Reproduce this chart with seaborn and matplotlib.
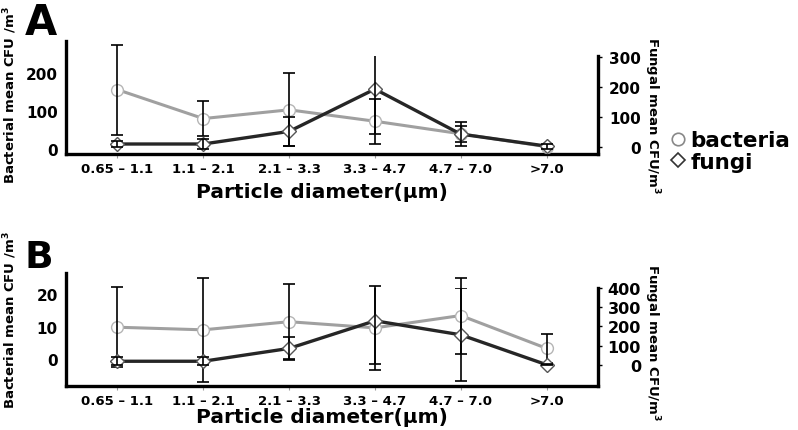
import numpy as np
import seaborn as sns
import matplotlib
matplotlib.use("Agg")
import matplotlib.pyplot as plt
from matplotlib.lines import Line2D

# size classes of the sampler stages
categories = ["0.65 – 1.1", "1.1 – 2.1", "2.1 – 3.3", "3.3 – 4.7", "4.7 – 7.0", ">7.0"]

# panel A
bact_a = [156, 80, 103, 73, 40, 6]
bact_a_err = [118, 46, 96, 59, 21, 4]
fungi_a = [10, 10, 52, 193, 43, 3]
fungi_a_err = [10, 17, 47, 150, 41, 8]

# panel B
bact_b = [9.8, 9.0, 11.5, 9.6, 13.4, 3.3]
bact_b_err = [12.4, 16.0, 11.5, 12.9, 11.7, 4.4]
fungi_b = [18, 18, 85, 229, 156, 0]
fungi_b_err = [20, 20, 60, 226, 242, 4]

sns.set_style("ticks")
plt.rcParams["font.family"] = ["DejaVu Sans"]
plt.rcParams["font.weight"] = "bold"
for key in ("text.color", "axes.labelcolor", "xtick.color", "ytick.color"):
    plt.rcParams[key] = "black"

BACT_LINE = "#a0a0a0"
BACT_EDGE = "#b5b5b5"
FUNGI_LINE = "#262626"
FUNGI_EDGE = "#555555"
W, H = 798, 431

fig = plt.figure(figsize=(W / 100, H / 100), dpi=100)


def px_axes(x0, x1, y_top, y_bot):
    return fig.add_axes([x0 / W, 1 - y_bot / H, (x1 - x0) / W, (y_bot - y_top) / H])


def draw_panel(y_top_l, y_top_r, y_bot, bact, bact_err, fungi, fungi_err,
               ylim_l, ylim_r, yticks_l, yticks_r, tick_fs_r, letter, letter_y, letter_fs,
               ylab_l_y, ylab_r_y, xlab_y):
    x = np.arange(len(categories))
    ax = px_axes(66, 598, y_top_l, y_bot)
    axr = px_axes(66, 598, y_top_r, y_bot)
    axr.patch.set_alpha(0)

    sns.lineplot(x=x, y=bact, ax=ax, color=BACT_LINE, lw=2.2, marker="o", ms=8.5,
                 mfc="white", mec=BACT_EDGE, mew=1.0, zorder=3)
    ax.errorbar(x, bact, yerr=bact_err, fmt="none", ecolor="black", elinewidth=1.2,
                capsize=4.5, capthick=1.2, zorder=4)
    sns.lineplot(x=x, y=fungi, ax=axr, color=FUNGI_LINE, lw=2.4, marker="D", ms=7.5,
                 mfc="white", mec=FUNGI_EDGE, mew=1.0, zorder=3)
    axr.errorbar(x, fungi, yerr=fungi_err, fmt="none", ecolor="black", elinewidth=1.2,
                 capsize=4.5, capthick=1.2, zorder=4)

    for a in (ax, axr):
        a.set_xlim(-0.6, 5.6)
    ax.set_ylim(*ylim_l)
    axr.set_ylim(*ylim_r)

    ax.set_xticks(x)
    ax.set_xticklabels(categories, fontsize=9.5, fontweight="bold")
    ax.tick_params(axis="x", length=3, color="#999999", pad=3)
    ax.set_yticks(yticks_l)
    ax.set_yticklabels([str(v) for v in yticks_l], fontsize=11, fontweight="bold")
    ax.tick_params(axis="y", length=0, pad=6)

    axr.set_xticks([])
    axr.yaxis.tick_right()
    axr.set_yticks(yticks_r)
    axr.set_yticklabels([str(v) for v in yticks_r], fontsize=tick_fs_r, fontweight="bold")
    axr.tick_params(axis="y", length=3, width=1, pad=28)
    for t in axr.get_yticklabels():
        t.set_ha("right")

    for s in ("top", "right"):
        ax.spines[s].set_visible(False)
    for s in ("top", "left", "bottom"):
        axr.spines[s].set_visible(False)
    for s in ("left", "bottom"):
        ax.spines[s].set_linewidth(2.4)
        ax.spines[s].set_color("black")
    axr.spines["right"].set_linewidth(2.4)
    axr.spines["right"].set_color("black")
    axr.spines["right"].set_visible(True)

    ax.set_xlabel("Particle diameter(μm)", fontsize=14.5, fontweight="bold")
    ax.xaxis.set_label_coords(0.481, -(xlab_y - y_bot) / (y_bot - y_top_l))
    ax.xaxis.label.set_va("center")

    ax.set_ylabel("Bacterial mean CFU /m$^\\mathbf{3}$", fontsize=9.5, fontweight="bold")
    ax.yaxis.set_label_coords((10 - 66) / 532, (y_bot - ylab_l_y) / (y_bot - y_top_l))
    ax.yaxis.label.set_va("center")

    axr.set_ylabel("Fungal mean CFU/m$^\\mathbf{3}$", fontsize=9.5, fontweight="bold",
                   rotation=270)
    axr.yaxis.set_label_position("right")
    axr.yaxis.set_label_coords((652 - 66) / 532, (y_bot - ylab_r_y) / (y_bot - y_top_r))
    axr.yaxis.label.set_va("center")
    axr.yaxis.label.set_ha("center")

    fig.text(25 / W, 1 - letter_y / H, letter, fontsize=letter_fs, fontweight="bold",
             ha="left", va="baseline")


draw_panel(42, 57, 155, bact_a, bact_a_err, fungi_a, fungi_a_err,
           (-13.2, 284), (-23.3, 303.3), [0, 100, 200], [0, 100, 200, 300], 11,
           "A", 35, 30, 95, 116, 193)
draw_panel(274, 289, 387, bact_b, bact_b_err, fungi_b, fungi_b_err,
           (-8.3, 26.5), (-111, 399.5), [0, 10, 20], [0, 100, 200, 300, 400], 11.5,
           "B", 268, 27, 320, 343, 418)

handles = [
    Line2D([], [], ls="none", marker="o", ms=9, mfc="white", mec="#888888", mew=1.2),
    Line2D([], [], ls="none", marker="D", ms=7.5, mfc="white", mec="#333333", mew=1.2),
]
fig.legend(handles, ["bacteria", "fungi"], loc="center left",
           bbox_to_anchor=(656 / W, 1 - 152 / H), frameon=False, borderpad=0,
           handlelength=1.0, handletextpad=0.1, labelspacing=0.05,
           prop={"size": 15.5, "weight": "bold"})

fig.savefig("out.png", dpi=100)
